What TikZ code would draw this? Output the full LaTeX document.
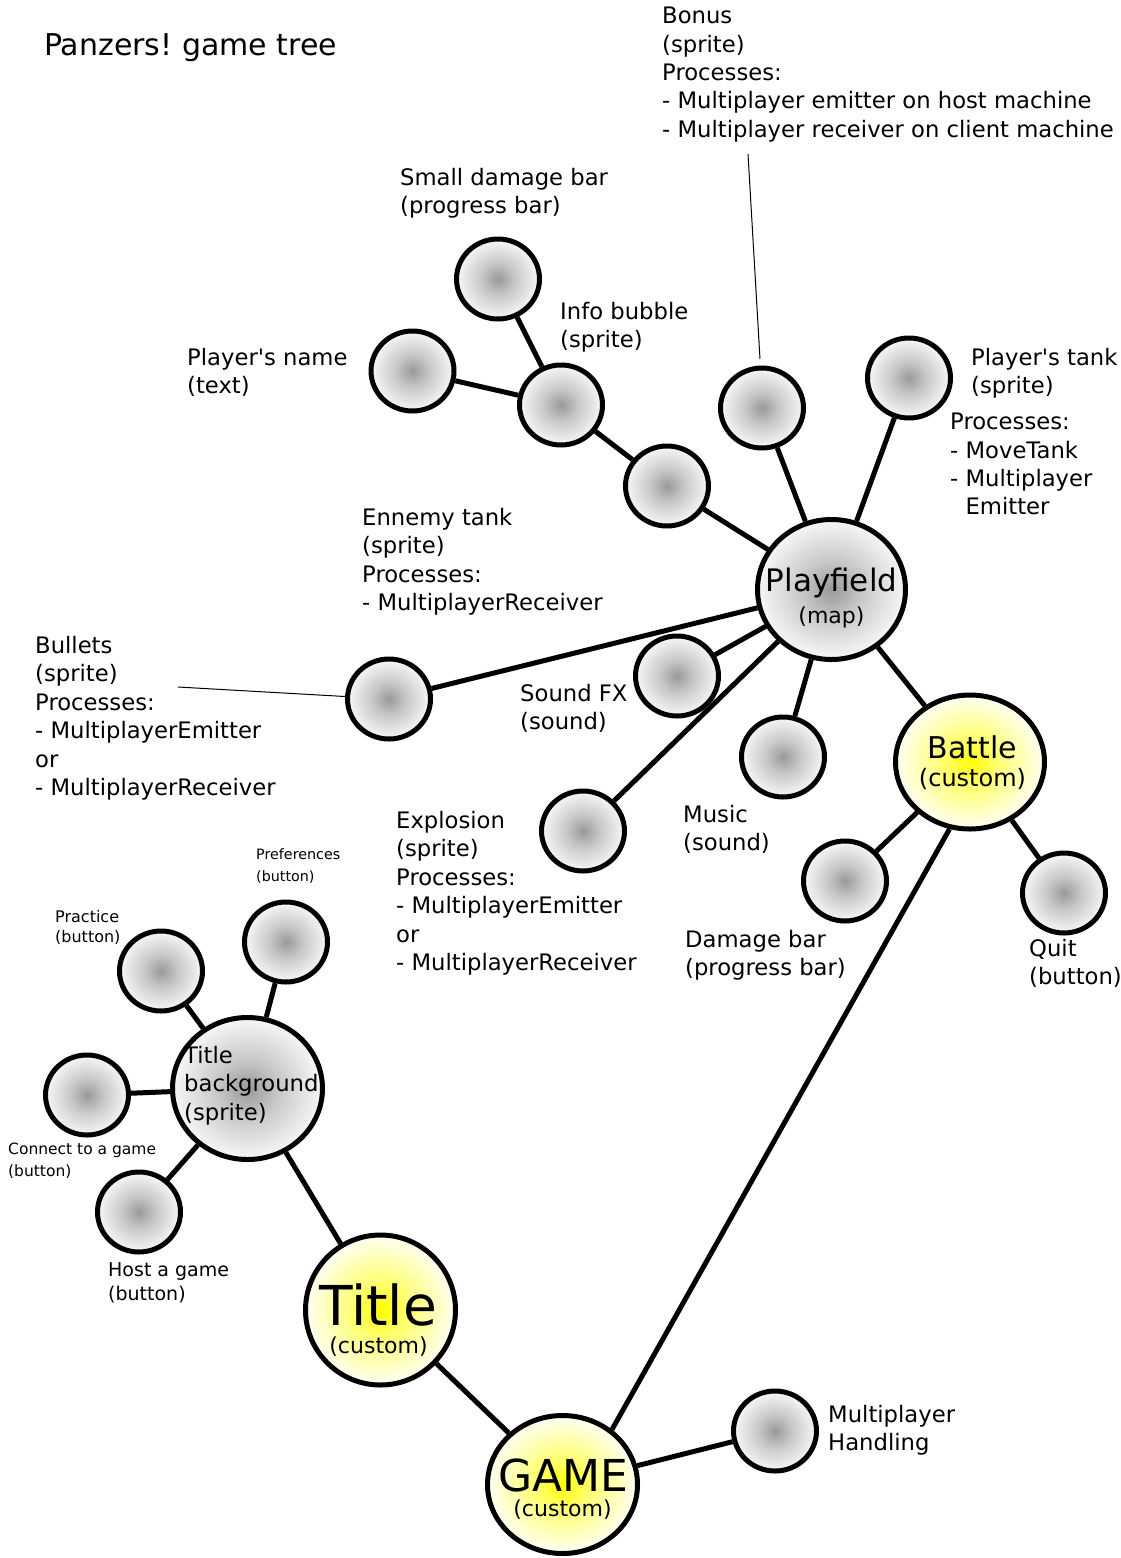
\documentclass[tikz,border=0pt]{standalone}
\usepackage{fontspec}
\setmainfont{DejaVu Sans}[Ligatures=TeXOff]
\frenchspacing
\usetikzlibrary{shapes.geometric}
\pgfdeclareradialshading{grayball}{\pgfpoint{0bp}{0bp}}{color(0bp)=(black!40); color(10bp)=(black!22); color(25bp)=(black!3); color(50bp)=(black!3)}
\pgfdeclareradialshading{yellowball}{\pgfpoint{0bp}{0bp}}{color(0bp)=(yellow); color(8bp)=(yellow!60); color(25bp)=(yellow!4); color(50bp)=(yellow!4)}
\tikzset{
  edge/.style={line width=5pt},
  leader/.style={line width=1pt},
  ball/.style={ellipse, draw, line width=5pt, shading=grayball, inner sep=0pt, minimum width=83pt, minimum height=80pt},
  yball/.style={ellipse, draw, line width=5pt, shading=yellowball, inner sep=0pt},
  lbl/.style={anchor=north west, inner sep=0pt, align=left, font=\fontsize{22.7}{28.4}\selectfont, execute at begin node=\strut},
  intext/.style={anchor=base, inner sep=0pt},
}
\begin{document}
\begin{tikzpicture}[x=1pt, y=-1pt]
\fill[white] (0,0) rectangle (1121,1558);
\useasboundingbox (0,0) rectangle (1121,1558);

% title
\node[anchor=base west, inner sep=0pt, font=\fontsize{30}{36}\selectfont] (title) at (44,55) {Panzers! game tree};

% big nodes
\node[ball, minimum width=148pt, minimum height=140pt] (pf) at (831.5,589.5) {};
\node[yball, minimum width=149pt, minimum height=134pt] (battle) at (970,762) {};
\node[yball, minimum width=150pt, minimum height=150pt] (titlen) at (380.5,1310) {};
\node[yball, minimum width=150pt, minimum height=138pt] (game) at (562.5,1484.5) {};
\node[ball, minimum width=150pt, minimum height=142pt] (tbg) at (247.5,1088.5) {};

% small nodes
\node[ball] (sdb) at (498,279) {};
\node[ball] (pname) at (412.5,371) {};
\node[ball] (info) at (561,405) {};
\node[ball] (unn) at (667,486) {};
\node[ball] (bonus) at (762,408) {};
\node[ball] (ptank) at (909,378) {};
\node[ball] (bullets) at (389,699) {};
\node[ball] (sfx) at (677,676) {};
\node[ball] (music) at (783,757) {};
\node[ball] (expl) at (583,831) {};
\node[ball] (dmg) at (845,881) {};
\node[ball] (quit) at (1064,893) {};
\node[ball] (practice) at (161,971) {};
\node[ball] (prefs) at (286,942) {};
\node[ball] (connect) at (87,1095) {};
\node[ball] (host) at (139,1212) {};
\node[ball] (mph) at (775,1431) {};

% texts inside big nodes
\node[intext, font=\fontsize{31}{31}\selectfont] at ([yshift=-2pt]pf.center) {Playfield};
\node[intext, font=\fontsize{22}{22}\selectfont] at ([yshift=-33.5pt]pf.center) {(map)};
\node[intext, font=\fontsize{30}{30}\selectfont] at ([xshift=2.5pt,yshift=3.7pt]battle.center) {Battle};
\node[intext, font=\fontsize{24}{24}\selectfont] at ([xshift=2.5pt,yshift=-24pt]battle.center) {(custom)};
\node[intext, font=\fontsize{55}{55}\selectfont] at ([xshift=-2.5pt,yshift=-15pt]titlen.center) {Title};
\node[intext, font=\fontsize{22}{22}\selectfont] at ([xshift=-2pt,yshift=-43pt]titlen.center) {(custom)};
\node[intext, font=\fontsize{44}{44}\selectfont] at ([xshift=1pt,yshift=-7pt]game.center) {GAME};
\node[intext, font=\fontsize{22}{22}\selectfont] at ([yshift=-32pt]game.center) {(custom)};
\node[lbl] (tbgtext) at (184,1046) {Title\\background\\(sprite)};

% connectors
\draw[edge] (sdb) -- (info);
\draw[edge] (pname) -- (info);
\draw[edge] (info) -- (unn);
\draw[edge] (unn) -- (pf);
\draw[edge] (bonus) -- (pf);
\draw[edge] (ptank) -- (pf);
\draw[edge] (bullets) -- (pf);
\draw[edge] (sfx) -- (pf);
\draw[edge] (music) -- (pf);
\draw[edge] (expl) -- (pf);
\draw[edge] (pf) -- (battle);
\draw[edge] (battle) -- (dmg);
\draw[edge] (battle) -- (quit);
\draw[edge] (battle.-107) -- (game.48);
\draw[edge] (titlen) -- (game);
\draw[edge] (game) -- (mph);
\draw[edge] (titlen) -- (tbg);
\draw[edge] (tbg) -- (practice);
\draw[edge] (tbg) -- (prefs);
\draw[edge] (tbg) -- (connect);
\draw[edge] (tbg) -- (host);

% leader lines
\coordinate (bonusend) at (748,154);
\coordinate (bonustip) at (760,359);
\draw[leader] (bonusend) -- (bonustip);
\coordinate (bulletsend) at (178,687);
\draw[leader] (bulletsend) -- (bullets);

% labels
\node[lbl] (lbonus) at (662,7) {Bonus\\(sprite)\\Processes:\\- Multiplayer emitter on host machine\\- Multiplayer receiver on client machine};
\node[lbl] (lsdb) at (400,168) {Small damage bar\\(progress bar)};
\node[lbl] (linfo) at (560,302) {Info bubble\\(sprite)};
\node[lbl] (lpname) at (187,348) {Player's name\\(text)};
\node[lbl] (lptank) at (971,348) {Player's tank\\(sprite)};
\node[lbl] (lptankp) at (950,413) {Processes:\\- MoveTank\\- Multiplayer\\\phantom{- }Emitter};
\node[lbl] (lenemy) at (362,508) {Ennemy tank\\(sprite)\\Processes:\\- MultiplayerReceiver};
\node[lbl] (lbullets) at (35,636) {Bullets\\(sprite)\\Processes:\\- MultiplayerEmitter\\or\\- MultiplayerReceiver};
\node[lbl] (lsfx) at (520,684) {Sound FX\\(sound)};
\node[lbl] (lmusic) at (683,805) {Music\\(sound)};
\node[lbl] (lexpl) at (396,811) {Explosion\\(sprite)\\Processes:\\- MultiplayerEmitter\\or\\- MultiplayerReceiver};
\node[lbl] (ldmg) at (685,930) {Damage bar\\(progress bar)};
\node[lbl] (lquit) at (1029,939) {Quit\\(button)};
\node[lbl] (lmph) at (828,1405) {Multiplayer\\Handling};
\node[lbl, font=\fontsize{14.3}{22}\selectfont] (lprefs) at (256,848) {Preferences\\(button)};
\node[lbl, font=\fontsize{16}{20}\selectfont] (lpractice) at (55,910) {Practice\\(button)};
\node[lbl, font=\fontsize{15.5}{22}\selectfont] (lconnect) at (8,1143) {Connect to a game\\(button)};
\node[lbl, font=\fontsize{19}{24}\selectfont] (lhost) at (108,1262) {Host a game\\(button)};
\end{tikzpicture}
\end{document}
